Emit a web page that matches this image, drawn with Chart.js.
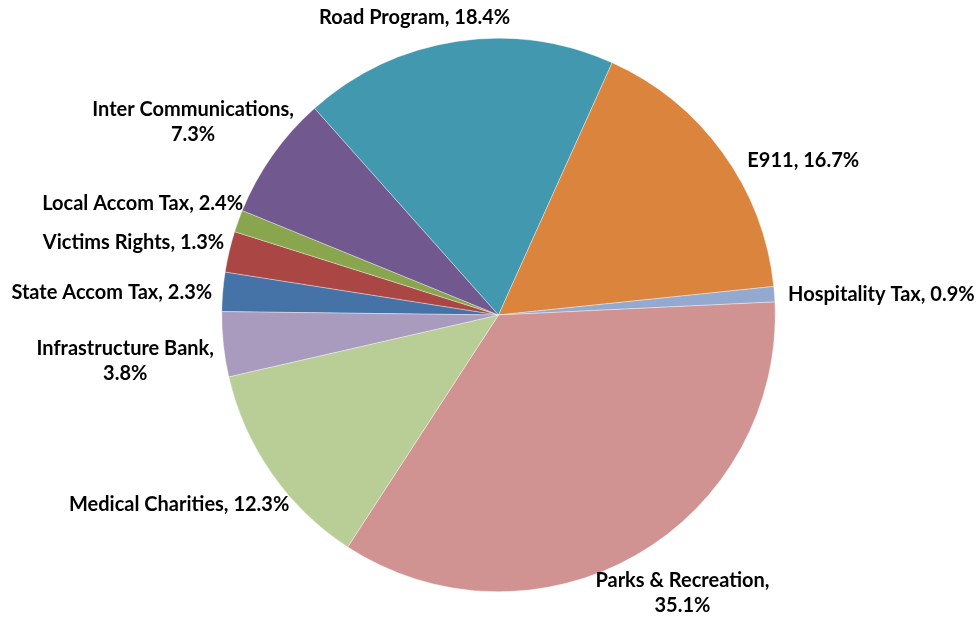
<!DOCTYPE html>
<html>
<head>
<meta charset="utf-8">
<script src="https://cdn.jsdelivr.net/npm/chart.js@4"></script>
<style>
  html, body { margin: 0; padding: 0; background: #fff; }
  #wrap { width: 978px; height: 617px; position: relative; }
</style>
</head>
<body>
<div id="wrap"><canvas id="pieChart"></canvas></div>
<script>
// slices, clockwise from the 9 o'clock position
const categories = ['State Accom Tax', 'Local Accom Tax', 'Victims Rights', 'Inter Communications', 'Road Program',
    'E911', 'Hospitality Tax', 'Parks & Recreation', 'Medical Charities', 'Infrastructure Bank'];
const shares = [2.3, 2.4, 1.3, 7.3, 18.4, 16.7, 0.9, 35.1, 12.3, 3.8];
const sliceColors = ['#4572A7', '#AA4643', '#89A54E', '#71588F', '#4198AF',
    '#DB843D', '#93A9CF', '#D19392', '#B9CD96', '#A99BBD'];

// label tweaks (Excel moved a few of them around)
const wrapAfterComma = [false, false, false, true, false, false, false, true, false, true];
const nudge = [[-1, 3], [21, -43], [-10, 29], [11, -13], [-26, -2], [27, 21], [4, 2], [-2, 8], [6, 18], [0, 13]];

const outsideLabels = {
    id: 'outsideLabels',
    afterDatasetsDraw(chart) {
        const ctx = chart.ctx;
        const meta = chart.getDatasetMeta(0);
        ctx.save();
        ctx.font = 'bold 20px Lato';
        ctx.fillStyle = '#000';
        ctx.textAlign = 'center';
        ctx.textBaseline = 'middle';
        const lineH = 25;
        meta.data.forEach((arc, i) => {
            const { x, y, startAngle, endAngle, outerRadius } = arc.getProps(['x', 'y', 'startAngle', 'endAngle', 'outerRadius'], true);
            const mid = (startAngle + endAngle) / 2;
            const dx = Math.cos(mid), dy = Math.sin(mid);
            const r = outerRadius + 10;
            const pct = shares[i].toFixed(1) + '%';
            const lines = wrapAfterComma[i] ? [categories[i] + ',', pct] : [categories[i] + ', ' + pct];
            const w = Math.max(...lines.map(l => ctx.measureText(l).width));
            const h = lines.length * lineH;
            const cx = x + dx * r + dx * w / 2 + nudge[i][0];
            const cy = y + dy * r + dy * h / 2 + nudge[i][1];
            lines.forEach((l, k) => {
                ctx.fillText(l, cx, cy - h / 2 + lineH * (k + 0.5));
            });
        });
        ctx.restore();
    }
};

new Chart(document.getElementById('pieChart'), {
    type: 'pie',
    data: {
        labels: categories,
        datasets: [{
            data: shares,
            backgroundColor: sliceColors,
            borderColor: 'rgba(255,255,255,0.6)',
            borderWidth: 0.6
        }]
    },
    options: {
        responsive: true,
        maintainAspectRatio: false,
        animation: false,
        rotation: 270.7,
        layout: { padding: { left: 221, right: 202, top: 38, bottom: 25 } },
        plugins: {
            legend: { display: false },
            tooltip: { enabled: false }
        }
    },
    plugins: [outsideLabels]
});
</script>
</body>
</html>
